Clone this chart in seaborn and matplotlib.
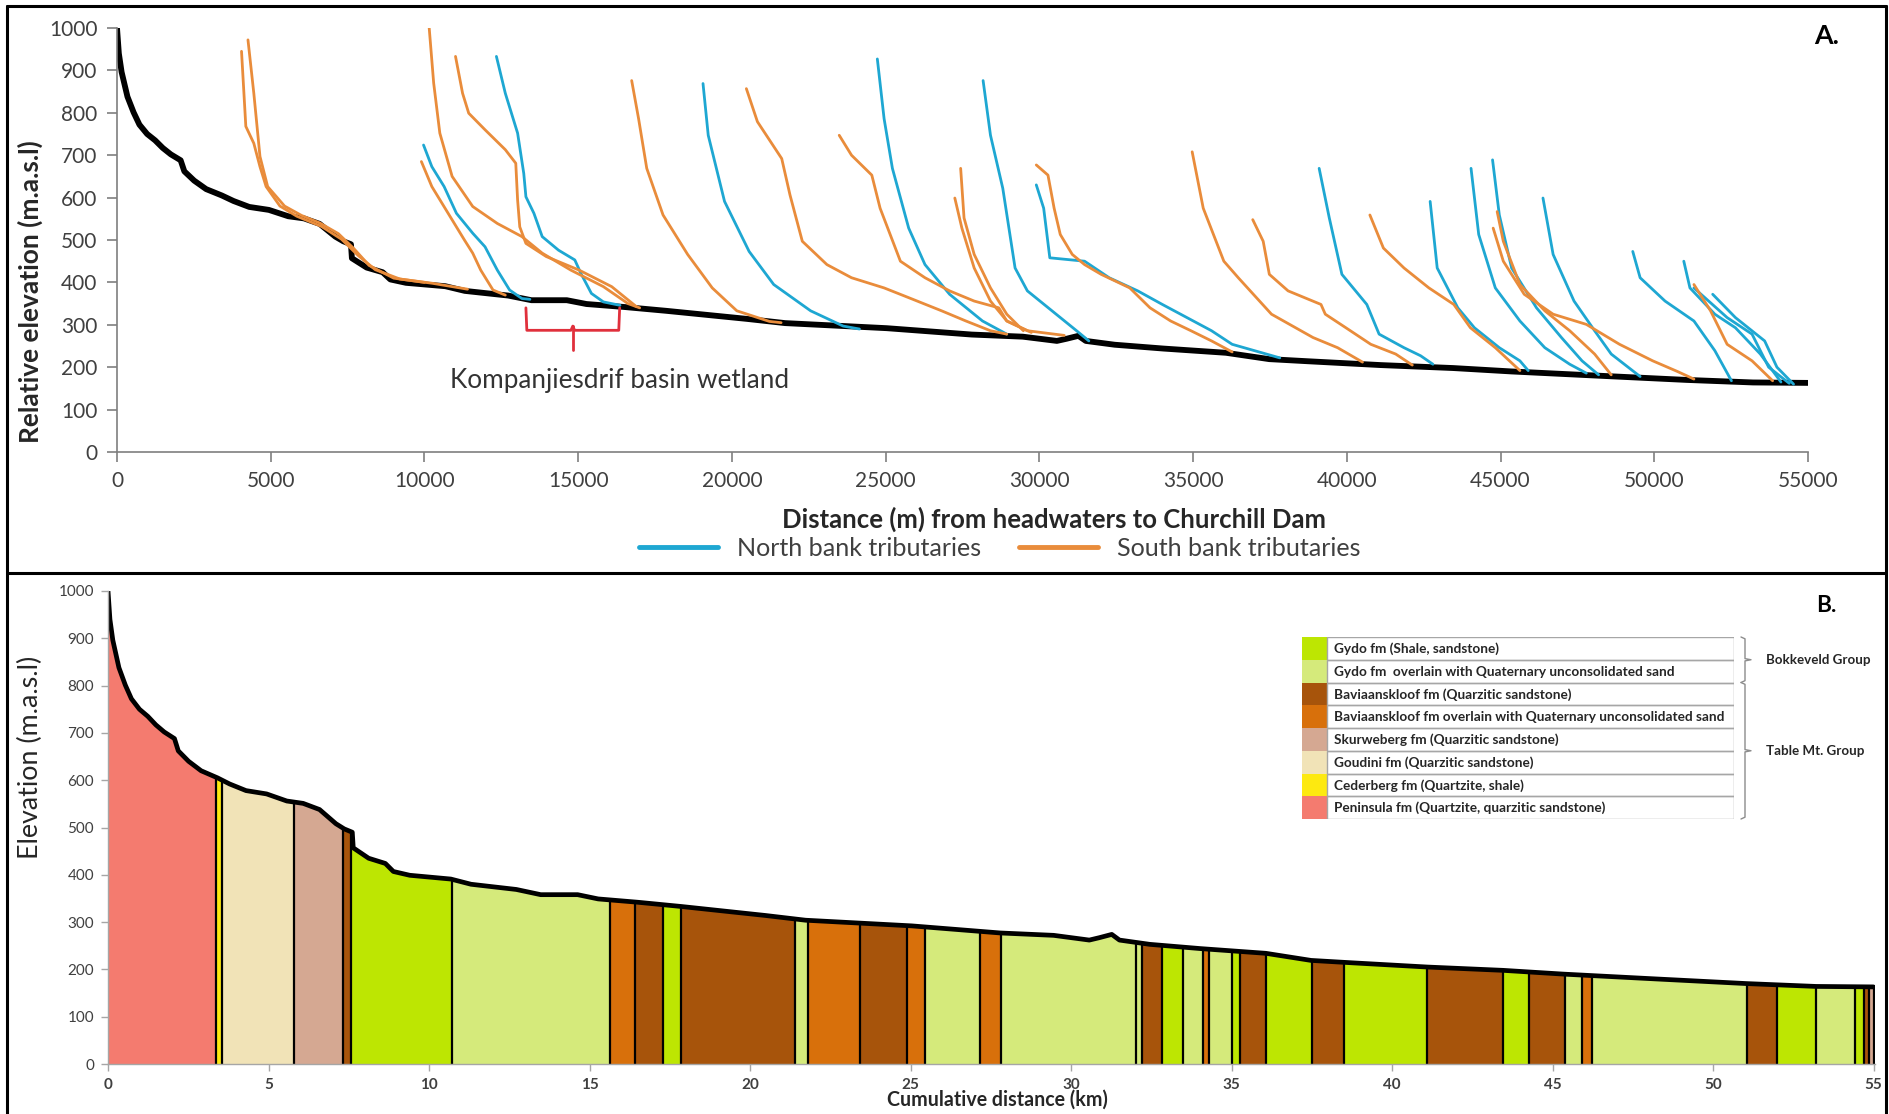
import numpy as np
import pandas as pd
import matplotlib.pyplot as plt
import seaborn as sns
from matplotlib.lines import Line2D
from matplotlib.patches import Rectangle

# --- main stem profile (km from headwaters, m.a.s.l) ---
profile_km = [0, 0.06, 0.15, 0.34, 0.54, 0.73, 0.98, 1.24, 1.49, 1.75, 2.07, 2.19, 2.51,
              2.9, 3.41, 3.79, 4.3, 4.94, 5.57, 6.08, 6.59, 7.1, 7.36, 7.61, 7.64, 8.12,
              8.64, 8.89, 9.4, 10.04, 10.68, 11.31, 11.95, 12.72, 13.48, 14.63, 15.27,
              16.5, 17.86, 20.48, 21.73, 25.04, 27.8, 29.46, 30.57, 30.88, 31.27, 31.51,
              32.45, 34.03, 36.07, 37.48, 38.74, 41.1, 43.46, 45.35, 48.18, 51.05, 53.21, 55.0]
profile_elev = [1000, 940, 896, 838, 801, 772, 750, 735, 717, 702, 688, 662, 640,
                620, 605, 592, 578, 571, 556, 551, 538, 508, 497, 490, 457, 435,
                424, 407, 399, 395, 391, 380, 375, 369, 358, 358, 349,
                342, 333, 314, 304, 292, 277, 272, 262, 267, 274, 262,
                253, 244, 234, 219, 214, 205, 198, 190, 180, 170, 164, 163]

# --- tributary long profiles, panel A (m, m.a.s.l) ---
north_x = [
    [9970, 10240, 10640, 11040, 11570, 11970, 12370, 12770, 13170, 13430],
    [12340, 12630, 13030, 13230, 13300, 13560, 13830, 14360, 14890, 15090, 15430, 15820, 16360],
    [19060, 19230, 19760, 20560, 21360, 22560, 23620, 24150],
    [24730, 24950, 25220, 25750, 26280, 27080, 28150, 28940],
    [28170, 28410, 28810, 29210, 29610, 30410, 31210, 31610],
    [29900, 30140, 30340, 31470, 32270, 33200, 34000, 34800, 35600, 36270, 37820],
    [39100, 39430, 39840, 40650, 41050, 41860, 42400, 42800],
    [42710, 42940, 43610, 44150, 44960, 45630, 45900],
    [44040, 44290, 44830, 45630, 46440, 47250, 47790],
    [44740, 44960, 45360, 46170, 46980, 47650, 48190],
    [46380, 46710, 47390, 48060, 48600, 49540],
    [49300, 49540, 50350, 51290, 51970, 52510],
    [50960, 51160, 51970, 52640, 53450, 54120],
    [51290, 52370, 53180, 53720, 54390],
    [51900, 52640, 53590, 53990, 54530],
]
north_y = [
    [724, 673, 626, 563, 516, 484, 429, 382, 362, 360],
    [933, 846, 752, 657, 602, 563, 508, 476, 453, 421, 374, 354, 346],
    [869, 747, 591, 473, 395, 333, 297, 290],
    [927, 786, 669, 528, 442, 372, 309, 278],
    [876, 747, 622, 434, 380, 333, 286, 262],
    [630, 575, 458, 450, 411, 380, 348, 317, 286, 254, 222],
    [669, 552, 419, 348, 278, 246, 227, 207],
    [591, 434, 340, 293, 246, 215, 192],
    [669, 513, 387, 309, 246, 207, 186],
    [689, 559, 434, 340, 270, 215, 182],
    [599, 466, 356, 286, 231, 178],
    [473, 411, 356, 309, 239, 168],
    [450, 387, 325, 293, 231, 165],
    [387, 317, 278, 200, 162],
    [372, 317, 262, 200, 160],
]
south_x = [
    [4050, 4190, 4450, 4650, 4850, 5300, 5850, 6650, 7300, 7850, 8400, 9200, 10250, 11400],
    [4260, 4450, 4650, 4900, 5450, 6000, 6600, 7200, 7700, 8200, 9000, 10000],
    [9900, 10240, 10770, 11300, 11570, 11830, 12230, 12630],
    [10150, 10300, 10500, 10900, 11570, 12370, 13170, 13830, 14760, 15820, 16620, 17000],
    [11010, 11240, 11440, 11970, 12630, 12970, 13030, 13100, 13300, 13960, 15030, 16090, 16890],
    [16740, 16965, 17230, 17760, 18560, 19360, 20160, 21220, 21600],
    [20470, 20830, 21620, 21890, 22290, 23090, 23890, 24950, 25750, 26820, 27610, 28410, 28940],
    [23490, 23890, 24550, 24820, 25480, 26280, 27080, 27880, 28680, 28940, 29610, 30810],
    [27440, 27550, 27880, 28410, 28940, 29480],
    [27250, 27480, 27880, 28410, 28940, 29740],
    [29900, 30280, 30480, 30680, 31070, 31470, 32010, 32940, 33600, 34270, 34930, 35600, 36270],
    [34970, 35330, 36000, 36470, 37550, 38900, 39700, 40510],
    [36940, 37280, 37480, 38090, 39160, 39300, 39970, 40780, 41590, 42130],
    [40750, 41190, 41860, 42670, 43480, 44020, 44830, 45630],
    [44890, 45090, 45630, 46440, 47250, 48060, 48600],
    [44760, 45090, 45770, 46710, 47790, 48870, 49950, 50750, 51290],
    [51290, 51830, 52370, 53180, 53850],
]
south_y = [
    [945, 768, 728, 673, 626, 580, 556, 532, 502, 463, 430, 408, 398, 384],
    [972, 846, 697, 626, 580, 558, 540, 515, 480, 440, 410, 400],
    [685, 626, 563, 500, 469, 429, 382, 370],
    [1004, 870, 752, 650, 579, 539, 508, 469, 429, 390, 350, 340],
    [933, 846, 799, 760, 713, 681, 594, 531, 492, 461, 429, 390, 343],
    [876, 786, 669, 559, 466, 387, 333, 308, 305],
    [857, 779, 692, 606, 497, 442, 411, 387, 364, 333, 309, 286, 278],
    [747, 700, 653, 575, 450, 411, 380, 356, 340, 309, 286, 275],
    [669, 552, 466, 387, 325, 286],
    [599, 528, 434, 356, 309, 282],
    [677, 653, 575, 513, 466, 442, 419, 387, 340, 309, 286, 262, 236],
    [708, 575, 450, 411, 325, 270, 246, 212],
    [548, 497, 419, 380, 348, 325, 293, 254, 231, 205],
    [559, 481, 434, 387, 348, 293, 246, 192],
    [567, 497, 395, 333, 286, 231, 182],
    [528, 450, 372, 325, 301, 254, 215, 190, 172],
    [395, 333, 254, 215, 168],
]

# --- geology (panel B) ---
unit_labels = [
    "Gydo fm (Shale, sandstone)",
    "Gydo fm  overlain with Quaternary unconsolidated sand",
    "Baviaanskloof fm (Quarzitic sandstone)",
    "Baviaanskloof fm overlain with Quaternary unconsolidated sand",
    "Skurweberg fm (Quarzitic sandstone)",
    "Goudini fm (Quarzitic sandstone)",
    "Cederberg fm (Quartzite, shale)",
    "Peninsula fm (Quartzite, quarzitic sandstone)",
]
unit_colors = ["#bde602", "#d5ea7b", "#a7540b", "#d8700b",
               "#d5a892", "#f1e3b7", "#fde910", "#f47b6f"]
seg_bounds = [0, 3.37, 3.55, 5.79, 7.32, 7.58, 10.72, 15.63, 16.42, 17.29, 17.85, 21.39,
              21.81, 23.44, 24.90, 25.46, 27.18, 27.82, 32.01, 32.22, 32.83, 33.48, 34.10,
              34.31, 35.00, 35.25, 36.07, 37.50, 38.49, 41.10, 43.46, 44.28, 45.38, 45.93,
              46.24, 51.05, 52.00, 53.21, 54.43, 54.70, 54.85, 55.0]
seg_units = [7, 6, 5, 4, 2, 0, 1, 3, 2, 0, 2,
             1, 3, 2, 3, 1, 3, 1, 1, 2, 0, 1,
             3, 1, 0, 2, 0, 2, 0, 2, 0, 2, 1,
             3, 1, 2, 0, 1, 0, 2, 4]

wetland_from, wetland_to = 13300, 16350
wetland_label_x = 16330

CYAN = "#1ea7d2"
ORANGE = "#e98c3b"
TXT = "#404040"
W, H = 1890, 1114

sns.set_theme(style="white")
plt.rcParams["font.family"] = ["Lato", "DejaVu Sans"]


def box(x0, y0, x1, y1):
    return [x0 / W, 1 - y1 / H, (x1 - x0) / W, (y1 - y0) / H]


fig = plt.figure(figsize=(W / 100, H / 100), dpi=100)
renderer = fig.canvas.get_renderer()


def fit(t, length):
    # scale a text so that its long side spans `length` pixels
    bb = t.get_window_extent(renderer)
    t.set_fontsize(t.get_fontsize() * length / max(bb.width, bb.height))
    return t


# ================= Panel A =================
axA = fig.add_axes(box(117, 28, 1808, 452))
km = np.array(profile_km)
sns.lineplot(x=km * 1000, y=profile_elev, color="black", lw=4.2, sort=False,
             estimator=None, ax=axA)

rows = []
for bank, xs_all, ys_all in [("North", north_x, north_y), ("South", south_x, south_y)]:
    for i, (xs, ys) in enumerate(zip(xs_all, ys_all)):
        for x, y in zip(xs, ys):
            rows.append((bank, f"{bank}{i}", x, y))
tribs = pd.DataFrame(rows, columns=["bank", "trib", "dist", "elev"])
sns.lineplot(data=tribs, x="dist", y="elev", hue="bank", units="trib", estimator=None,
             sort=False, palette={"North": CYAN, "South": ORANGE}, lw=2.0,
             legend=False, ax=axA)

axA.set_xlim(0, 55000)
axA.set_ylim(0, 1000)
axA.set_xticks(range(0, 55001, 5000))
axA.set_yticks(range(0, 1001, 100))
axA.set_xlabel("")
axA.set_ylabel("")
for s in ["top", "right"]:
    axA.spines[s].set_visible(False)
for s in ["left", "bottom"]:
    axA.spines[s].set_color("#7f7f7f")
    axA.spines[s].set_linewidth(1.2)
axA.tick_params(axis="both", direction="out", length=7, width=1.2, color="#7f7f7f",
                labelsize=15, labelcolor=TXT, pad=7, left=True, bottom=True)

# wetland bracket
mid = (wetland_from + wetland_to) / 2
axA.plot([wetland_from, wetland_from + 30, mid - 60, mid, mid + 60, wetland_to - 30, wetland_to],
         [340, 287, 287, 297, 287, 287, 340], color="#e0303c", lw=2)
axA.plot([mid, mid], [297, 240], color="#e0303c", lw=2)
fit(axA.text(wetland_label_x, 168, "Kompanjiesdrif basin wetland", ha="center",
             va="center", fontsize=17, color="#333333"), 338)

fit(fig.text(30 / W, 1 - 292 / H, "Relative elevation (m.a.s.l)", rotation=90,
             ha="center", va="center", fontsize=15, fontweight="bold", color="#262626"), 303)
fit(fig.text(1054 / W, 1 - 519 / H, "Distance (m) from headwaters to Churchill Dam",
             ha="center", va="center", fontsize=15, fontweight="bold", color="#262626"), 545)
fit(fig.text(1827 / W, 1 - 36 / H, "A.", ha="center", va="center", fontsize=18,
             fontweight="bold", color="black"), 25)

# legend sized to the original
probe = fig.text(0, 0, "North bank tributaries", fontsize=10)
leg_fs = 10 * 246 / probe.get_window_extent(renderer).width
probe.remove()
fs_px = leg_fs * 100 / 72
handles = [Line2D([], [], color=CYAN, lw=3.5), Line2D([], [], color=ORANGE, lw=3.5)]
fig.legend(handles, ["North bank tributaries", "South bank tributaries"], loc="center",
           bbox_to_anchor=(1000 / W, 1 - 548 / H), ncol=2, frameon=False, fontsize=leg_fs,
           handlelength=79 / fs_px, handletextpad=19 / fs_px, columnspacing=38 / fs_px,
           labelcolor=TXT)

# ================= Panel B =================
axB = fig.add_axes(box(108, 591, 108 + 55.05 * 32.1, 1064))
elev = np.array(profile_elev, dtype=float)
for a, b, u in zip(seg_bounds[:-1], seg_bounds[1:], seg_units):
    inside = (km > a) & (km < b)
    xs = np.concatenate([[a], km[inside], [b]])
    ys = np.interp(xs, km, elev)
    axB.fill_between(xs, 0, ys, color=unit_colors[u], lw=0)
edges = np.array(seg_bounds[1:])
axB.vlines(edges, 0, np.interp(edges, km, elev), color="black", lw=1.6)
sns.lineplot(x=km, y=elev, color="black", lw=3.4, sort=False, estimator=None, ax=axB)

axB.set_xlim(0, 55.05)
axB.set_ylim(0, 1000)
axB.set_xticks(range(0, 56, 5))
axB.set_yticks(range(0, 1001, 100))
axB.set_xlabel("")
axB.set_ylabel("")
for s in ["top", "right"]:
    axB.spines[s].set_visible(False)
for s in ["left", "bottom"]:
    axB.spines[s].set_color("#a6a6a6")
    axB.spines[s].set_linewidth(1.0)
axB.tick_params(axis="both", direction="out", length=5, width=1, color="#a6a6a6",
                labelsize=11, labelcolor=TXT, pad=5, left=True, bottom=True)
for lab in axB.get_xticklabels():
    lab.set_fontweight("bold")

fit(fig.text(30 / W, 1 - 757 / H, "Elevation (m.a.s.l)", rotation=90, ha="center",
             va="center", fontsize=12.5, color="#262626"), 203)
fit(fig.text(997 / W, 1 - 1100 / H, "Cumulative distance (km)", ha="center", va="center",
             fontsize=12, fontweight="bold", color="#262626"), 218)
fit(fig.text(1826 / W, 1 - 605 / H, "B.", ha="center", va="center", fontsize=17,
             fontweight="bold", color="black"), 22)

# geology legend table
axL = fig.add_axes(box(1302, 637, 1734, 819))
axL.set_xlim(0, 432)
axL.set_ylim(len(unit_labels), 0)
axL.axis("off")
probe = axL.text(0, 0, unit_labels[3], fontsize=10, fontweight="bold")
tab_fs = 10 * 390 / probe.get_window_extent(renderer).width
probe.remove()
for i, (lab, col) in enumerate(zip(unit_labels, unit_colors)):
    axL.add_patch(Rectangle((0, i), 25, 1, facecolor=col, edgecolor="none"))
    axL.add_patch(Rectangle((25, i), 407, 1, facecolor="none", edgecolor="#a6a6a6", lw=1))
    axL.text(32, i + 0.52, lab, va="center", ha="left", fontsize=tab_fs,
             fontweight="bold", color="#262626")


def brace(ax, y0, y1, x0=439, x1=449):
    ym = (y0 + y1) / 2
    ax.plot([x0, x0 + 4, x0 + 4, x1, x0 + 4, x0 + 4, x0],
            [y0, y0 + 0.08, ym - 0.05, ym, ym + 0.05, y1 - 0.08, y1],
            color="#8c8c8c", lw=1, clip_on=False)


brace(axL, 0, 2)
brace(axL, 2, 8)
fit(axL.text(464, 1.0, "Bokkeveld Group", va="center", ha="left", fontsize=9,
             fontweight="bold", color="#262626", clip_on=False), 104)
fit(axL.text(464, 5.0, "Table Mt. Group", va="center", ha="left", fontsize=9,
             fontweight="bold", color="#262626", clip_on=False), 98)

# panel frames
for xs, ys in [([7, 7], [6, H]), ([1886, 1886], [6, H]), ([7, 1886], [6, 6]),
               ([7, 1886], [573, 573])]:
    fig.add_artist(Line2D([x / W for x in xs], [1 - y / H for y in ys],
                          color="black", lw=2.2))

fig.savefig("out.png", dpi=100)
